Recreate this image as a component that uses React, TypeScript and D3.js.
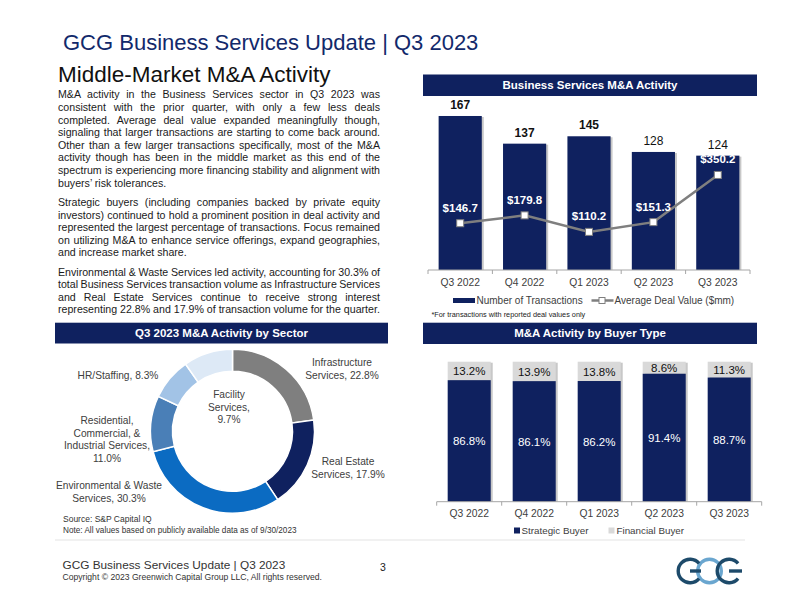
import { useEffect, useMemo, useRef } from 'react';
import * as d3 from 'd3';

// data
const quarters = ['Q3 2022', 'Q4 2022', 'Q1 2023', 'Q2 2023', 'Q3 2023'];
const transactions = [167, 137, 145, 128, 124];
const avgDealValue = [146.7, 179.8, 110.2, 151.3, 350.2];
const strategicPct = [86.8, 86.1, 86.2, 91.4, 88.7];
const financialPct = [13.2, 13.9, 13.8, 8.6, 11.3];

const sectorNames = [
  'Infrastructure Services',
  'Real Estate Services',
  'Environmental & Waste Services',
  'Residential, Commercial, & Industrial Services',
  'HR/Staffing',
  'Facility Services',
];
const sectorPct = [22.8, 17.9, 30.3, 11.0, 8.3, 9.7];
const sectorLabelLines = [
  ['Infrastructure', 'Services, 22.8%'],
  ['Real Estate', 'Services, 17.9%'],
  ['Environmental & Waste', 'Services, 30.3%'],
  ['Residential,', 'Commercial, &', 'Industrial Services,', '11.0%'],
  ['HR/Staffing, 8.3%'],
  ['Facility', 'Services,', '9.7%'],
];

const paragraphs = [
  [
    'M&A activity in the Business Services sector in Q3 2023 was',
    'consistent with the prior quarter, with only a few less deals',
    'completed. Average deal value expanded meaningfully though,',
    'signaling that larger transactions are starting to come back around.',
    'Other than a few larger transactions specifically, most of the M&A',
    'activity though has been in the middle market as this end of the',
    'spectrum is experiencing more financing stability and alignment with',
    'buyers\u2019 risk tolerances.',
  ],
  [
    'Strategic buyers (including companies backed by private equity',
    'investors) continued to hold a prominent position in deal activity and',
    'represented the largest percentage of transactions. Focus remained',
    'on utilizing M&A to enhance service offerings, expand geographies,',
    'and increase market share.',
  ],
  [
    'Environmental & Waste Services led activity, accounting for 30.3% of',
    'total Business Services transaction volume as Infrastructure Services',
    'and Real Estate Services continue to receive strong interest',
    'representing 22.8% and 17.9% of transaction volume for the quarter.',
  ],
];

const NAVY = '#0f215f';
const GRAY_TEXT = '#404040';
const FONT = 'Arial, "Liberation Sans", sans-serif';
const SECTOR_COLORS = ['#7f7f7f', '#0f215f', '#0b6bc2', '#4a7fb7', '#a2c3e6', '#dde9f6'];

// label anchors for the donut (center x, first line y)
const SECTOR_LABEL_POS: [number, number][] = [
  [342, 366], [348, 465], [109, 489], [107, 424], [118, 379], [229, 398],
];

const TEXT_LEFT = 58;
const TEXT_WIDTH = 322;
const TEXT_SQUEEZE = 0.95;

const Header = ({ x, y, w, h, label }: { x: number; y: number; w: number; h: number; label: string }) => (
  <g>
    <rect x={x} y={y} width={w} height={h} fill={NAVY} />
    <text x={x + w / 2} y={y + h / 2 + 4} textAnchor="middle" fill="#fff" fontWeight="bold" fontSize={11.5}>
      {label}
    </text>
  </g>
);

export default function App() {
  const textRef = useRef<SVGGElement>(null);

  // justify body text with word-spacing (in squeezed coordinates)
  useEffect(() => {
    if (!textRef.current) return;
    const target = TEXT_WIDTH / TEXT_SQUEEZE;
    d3.select(textRef.current)
      .selectAll<SVGTextElement, unknown>('text.just')
      .each(function () {
        this.removeAttribute('word-spacing');
        const w = this.getComputedTextLength();
        const spaces = (this.textContent || '').split(' ').length - 1;
        if (spaces > 0) this.setAttribute('word-spacing', String((target - w) / spaces));
      });
  }, []);

  // top bar chart scales
  const x1 = useMemo(
    () => d3.scaleBand<string>().domain(quarters).range([428, 750]).paddingInner(0.33).paddingOuter(0.165),
    []
  );
  const y1 = d3.scaleLinear().domain([0, 180]).range([270, 104]);
  const y1b = d3.scaleLinear().domain([0, 700]).range([258, 92]);
  const lineGen = d3
    .line<number>()
    .x((_, i) => x1(quarters[i])! + x1.bandwidth() / 2)
    .y(d => y1b(d));

  // stacked chart scales
  const x2 = useMemo(
    () => d3.scaleBand<string>().domain(quarters).range([436.7, 761.7]).paddingInner(0.338).paddingOuter(0.169),
    []
  );
  const y2 = d3.scaleLinear().domain([0, 100]).range([501.7, 361.7]);

  // donut
  const pie = d3.pie<number>().sort(null).value(d => d);
  const arcs = pie(sectorPct);
  const arcGen = d3.arc<d3.PieArcDatum<number>>().innerRadius(60).outerRadius(82);

  const bandTicks = (x: d3.ScaleBand<string>) => {
    const step = x.step();
    const start = x(quarters[0])! - (step - x.bandwidth()) / 2;
    return d3.range(quarters.length + 1).map(i => start + i * step);
  };

  // open "G" shape for the logo, gap on the right
  const logoArc =
    d3.arc()({ innerRadius: 11.8, outerRadius: 11.8, startAngle: Math.PI / 2 + 0.7, endAngle: Math.PI / 2 + 2 * Math.PI - 0.7 }) || '';

  const paraStart = [98.5, 206, 275.7];

  return (
    <svg width={800} height={600} style={{ position: 'absolute', left: 0, top: 0, background: '#fff' }} fontFamily={FONT}>
      {/* titles */}
      <text x={63} y={49.5} fontSize={22} fill="#12296b">
        GCG Business Services Update | Q3 2023
      </text>
      <text x={58} y={82} fontSize={22.5} fill="#111">
        Middle-Market M&amp;A Activity
      </text>

      {/* body text */}
      <g ref={textRef} fontSize={11.2} fill="#1a1a1a" transform={`translate(${TEXT_LEFT},0) scale(${TEXT_SQUEEZE},1)`}>
        {paragraphs.map((p, pi) =>
          p.map((line, li) => (
            <text key={`${pi}-${li}`} className={li < p.length - 1 ? 'just' : ''} x={0} y={paraStart[pi] + li * 12.6}>
              {line}
            </text>
          ))
        )}
      </g>

      {/* top-right chart */}
      <Header x={423} y={74.5} w={334} h={21.5} label="Business Services M&A Activity" />
      <g>
        {quarters.map((q, i) => (
          <g key={q}>
            <rect x={x1(q)! + 2} y={y1(transactions[i]) + 1} width={x1.bandwidth()} height={y1(0) - y1(transactions[i]) - 1} fill="#c8c8c8" />
            <rect x={x1(q)!} y={y1(transactions[i])} width={x1.bandwidth()} height={y1(0) - y1(transactions[i])} fill={NAVY} />
            <text
              x={x1(q)! + x1.bandwidth() / 2}
              y={y1(transactions[i]) - 7}
              textAnchor="middle"
              fontSize={12}
              fontWeight={i < 3 ? 'bold' : 'normal'}
              fill="#111"
            >
              {transactions[i]}
            </text>
            <text x={x1(q)! + x1.bandwidth() / 2} y={286} textAnchor="middle" fontSize={10.3} fill={GRAY_TEXT}>
              {q}
            </text>
          </g>
        ))}
        <line x1={428} x2={750} y1={270} y2={270} stroke="#a6a6a6" />
        {bandTicks(x1).map((t, i) => (
          <line key={i} x1={t} x2={t} y1={270} y2={274} stroke="#a6a6a6" />
        ))}
        <path d={lineGen(avgDealValue) || ''} fill="none" stroke="#7f7f7f" strokeWidth={2.5} />
        {avgDealValue.map((v, i) => {
          const cx = x1(quarters[i])! + x1.bandwidth() / 2;
          return (
            <g key={i}>
              <rect x={cx - 3.5} y={y1b(v) - 3.5} width={7} height={7} fill="#fff" stroke="#7f7f7f" strokeWidth={1} />
              <text x={cx} y={y1b(v) - 11.5} textAnchor="middle" fontSize={11.5} fontWeight="bold" fill="#fff">
                ${v.toFixed(1)}
              </text>
            </g>
          );
        })}
        {/* legend */}
        <rect x={453} y={298} width={22} height={5} fill={NAVY} />
        <text x={476.5} y={303.8} fontSize={10} fill={GRAY_TEXT}>Number of Transactions</text>
        <line x1={591.5} x2={613.5} y1={300.5} y2={300.5} stroke="#7f7f7f" strokeWidth={2.5} />
        <rect x={599} y={297.5} width={6} height={6} fill="#fff" stroke="#7f7f7f" />
        <text x={614.5} y={303.8} fontSize={10} fill={GRAY_TEXT}>Average Deal Value ($mm)</text>
        <text x={431.5} y={317} fontSize={7.3} fill="#222">*For transactions with reported deal values only</text>
      </g>

      {/* sector donut */}
      <Header x={55} y={322.7} w={333} h={20.8} label="Q3 2023 M&A Activity by Sector" />
      <g transform="translate(232.5,431.3)">
        {arcs.map((a, i) => (
          <path key={sectorNames[i]} d={arcGen(a) || ''} fill={SECTOR_COLORS[i]} stroke="#fff" strokeWidth={1.5} />
        ))}
      </g>
      {sectorLabelLines.map((lines, i) => (
        <text key={sectorNames[i]} textAnchor="middle" fontSize={10.2} fill={GRAY_TEXT}>
          {lines.map((l, li) => (
            <tspan key={li} x={SECTOR_LABEL_POS[i][0]} y={SECTOR_LABEL_POS[i][1] + li * 12.5}>
              {l}
            </tspan>
          ))}
        </text>
      ))}
      <text x={63} y={522.3} fontSize={8.5} fill="#333">Source: S&amp;P Capital IQ</text>
      <text x={63} y={533} fontSize={8.2} fill="#333">Note: All values based on publicly available data as of 9/30/2023</text>

      {/* buyer type chart */}
      <Header x={423} y={322.7} w={334} h={21.3} label="M&A Activity by Buyer Type" />
      <g>
        {quarters.map((q, i) => {
          const bx = x2(q)!;
          const bw = x2.bandwidth();
          const sTop = y2(strategicPct[i]);
          const fTop = y2(strategicPct[i] + financialPct[i]);
          return (
            <g key={q}>
              <rect x={bx + 2} y={fTop + 1} width={bw} height={y2(0) - fTop - 1} fill="#c8c8c8" />
              <rect x={bx} y={fTop} width={bw} height={sTop - fTop} fill="#d9d9d9" />
              <rect x={bx} y={sTop} width={bw} height={y2(0) - sTop} fill={NAVY} />
              <text x={bx + bw / 2} y={(fTop + sTop) / 2 + 4.2} textAnchor="middle" fontSize={11.5} fill="#111">
                {financialPct[i].toFixed(1)}%
              </text>
              <text x={bx + bw / 2} y={(sTop + y2(0)) / 2 + 4.2} textAnchor="middle" fontSize={11.5} fill="#fff">
                {strategicPct[i].toFixed(1)}%
              </text>
              <text x={bx + bw / 2} y={516.5} textAnchor="middle" fontSize={10.3} fill={GRAY_TEXT}>
                {q}
              </text>
            </g>
          );
        })}
        <line x1={436.7} x2={761.7} y1={501.7} y2={501.7} stroke="#a6a6a6" />
        {bandTicks(x2).map((t, i) => (
          <line key={i} x1={t} x2={t} y1={501.7} y2={505.7} stroke="#a6a6a6" />
        ))}
        <rect x={514} y={527.5} width={6} height={6} fill={NAVY} />
        <text x={521.5} y={534} fontSize={9.8} fill={GRAY_TEXT}>Strategic Buyer</text>
        <rect x={608.5} y={527.5} width={6} height={6} fill="#d9d9d9" />
        <text x={616.5} y={534} fontSize={9.8} fill={GRAY_TEXT}>Financial Buyer</text>
      </g>

      <line x1={55} x2={745} y1={540} y2={540} stroke="#e3e3e3" />

      {/* footer */}
      <text x={62.5} y={568.5} fontSize={11.8} fill="#333">GCG Business Services Update | Q3 2023</text>
      <text x={62.5} y={579.7} fontSize={8.6} fill="#333">Copyright © 2023 Greenwich Capital Group LLC, All rights reserved.</text>
      <text x={383} y={570.5} fontSize={10.5} textAnchor="middle" fill="#222">3</text>

      {/* logo */}
      <g fill="none" strokeWidth={3.4}>
        <circle cx={709.5} cy={571} r={11.8} stroke="#6aa6cf" />
        <path d={logoArc} transform="translate(690,571)" stroke="#1d4a6a" />
        <line x1={690} x2={701} y1={571} y2={571} stroke="#1d4a6a" />
        <path d={logoArc} transform="translate(729,571)" stroke="#1d4a6a" />
        <line x1={729} x2={742} y1={571} y2={571} stroke="#1d4a6a" />
      </g>
    </svg>
  );
}
